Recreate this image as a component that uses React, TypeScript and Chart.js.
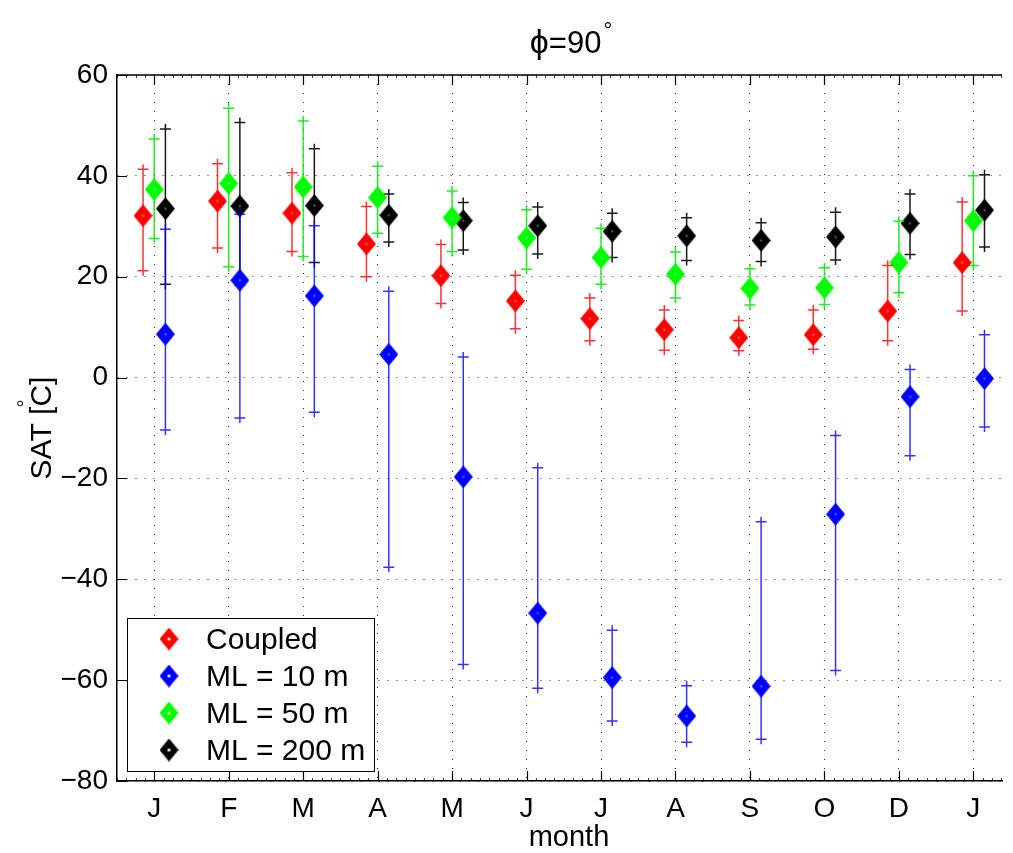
import { useEffect, useRef } from 'react';
import { Chart, registerables } from 'chart.js';

Chart.register(...registerables);

// ---------- data ----------
const MONTH_LABELS = ['J', 'F', 'M', 'A', 'M', 'J', 'J', 'A', 'S', 'O', 'D', 'J'];
const MONTH_POS = [1, 2, 3, 4, 5, 6, 7, 8, 9, 10, 11, 12];
const Y_TICKS = [-80, -60, -40, -20, 0, 20, 40, 60];

const SERIES_NAMES = ['Coupled', 'ML = 10 m', 'ML = 50 m', 'ML = 200 m'];

const COUPLED_MEAN = [32.1, 35.0, 32.6, 26.5, 20.2, 15.2, 11.7, 9.5, 7.9, 8.5, 13.2, 22.8];
const COUPLED_HIGH = [41.3, 42.4, 40.6, 33.9, 26.4, 20.3, 15.8, 13.4, 11.3, 13.4, 22.2, 34.8];
const COUPLED_LOW = [21.2, 25.7, 25.0, 20.0, 14.7, 9.7, 7.3, 5.4, 5.3, 5.6, 7.3, 13.2];

const ML10_MEAN = [8.6, 19.3, 16.2, 4.6, -19.7, -46.7, -59.5, -67.1, -61.2, -27.1, -3.8, -0.2];
const ML10_HIGH = [29.4, 32.4, 30.1, 17.1, 4.1, -17.9, -50.1, -61.1, -28.6, -11.5, 1.6, 8.5];
const ML10_LOW = [-10.4, -8.0, -6.9, -37.6, -56.9, -61.6, -68.1, -72.3, -71.7, -58.1, -15.5, -9.8];

const ML50_MEAN = [37.3, 38.5, 37.8, 35.7, 31.7, 27.7, 23.8, 20.5, 17.7, 17.8, 22.8, 31.1];
const ML50_HIGH = [47.3, 53.4, 50.9, 41.9, 37.0, 33.3, 29.6, 24.9, 21.6, 21.8, 31.0, 40.0];
const ML50_LOW = [27.6, 22.0, 24.0, 28.6, 25.0, 21.5, 18.5, 15.8, 14.4, 14.5, 16.8, 22.2];

const ML200_MEAN = [33.5, 34.0, 34.1, 32.2, 31.1, 30.1, 29.0, 28.1, 27.2, 27.9, 30.6, 33.2];
const ML200_HIGH = [49.3, 50.6, 45.4, 36.4, 34.7, 33.8, 32.6, 31.7, 30.7, 32.8, 36.4, 40.2];
const ML200_LOW = [18.5, 18.3, 22.8, 26.9, 25.3, 24.5, 23.8, 23.2, 23.0, 23.3, 24.4, 25.9];

// ---------- styling ----------
const MEANS = [COUPLED_MEAN, ML10_MEAN, ML50_MEAN, ML200_MEAN];
const HIGHS = [COUPLED_HIGH, ML10_HIGH, ML50_HIGH, ML200_HIGH];
const LOWS = [COUPLED_LOW, ML10_LOW, ML50_LOW, ML200_LOW];
const COLORS = ['#ff0000', '#0000ff', '#00ff00', '#000000'];
const ERR_COLORS = ['rgba(255,0,0,0.8)', 'rgba(0,0,255,0.8)', 'rgba(0,230,0,0.85)', 'rgba(0,0,0,0.9)'];
const SERIES_OFFSETS = [-0.15, 0.15, 0, 0.15];

const FONT = '"Liberation Sans", Arial, Helvetica, sans-serif';

function makeDiamond(color: string, w: number, h: number, dot: string, dotR: number) {
  const c = document.createElement('canvas');
  c.width = w;
  c.height = h;
  const ctx = c.getContext('2d')!;
  ctx.fillStyle = color;
  ctx.beginPath();
  ctx.moveTo(w / 2, 0);
  ctx.lineTo(w, h / 2);
  ctx.lineTo(w / 2, h);
  ctx.lineTo(0, h / 2);
  ctx.closePath();
  ctx.fill();
  ctx.fillStyle = dot;
  ctx.beginPath();
  ctx.arc(w / 2, h / 2, dotR, 0, Math.PI * 2);
  ctx.fill();
  return c;
}

const errorBarPlugin = {
  id: 'errorBars',
  beforeDatasetDraw(chart: any, args: any) {
    const i = args.index;
    const xs = chart.scales.x;
    const ys = chart.scales.y;
    const ctx = chart.ctx;
    ctx.save();
    ctx.strokeStyle = ERR_COLORS[i];
    ctx.lineWidth = 1.5;
    for (let k = 0; k < MONTH_POS.length; k++) {
      const x = xs.getPixelForValue(MONTH_POS[k] + SERIES_OFFSETS[i]);
      const yh = ys.getPixelForValue(HIGHS[i][k]);
      const yl = ys.getPixelForValue(LOWS[i][k]);
      ctx.beginPath();
      ctx.moveTo(x, yh - 5);
      ctx.lineTo(x, yl + 5);
      ctx.moveTo(x - 5.5, yh);
      ctx.lineTo(x + 5.5, yh);
      ctx.moveTo(x - 5.5, yl);
      ctx.lineTo(x + 5.5, yl);
      ctx.stroke();
    }
    ctx.restore();
  },
};

const decorPlugin = {
  id: 'decor',
  afterDraw(chart: any) {
    const ctx = chart.ctx;
    const area = chart.chartArea;
    const xs = chart.scales.x;
    const ys = chart.scales.y;
    ctx.save();

    // top frame line
    ctx.strokeStyle = '#000';
    ctx.lineWidth = 1.5;
    ctx.beginPath();
    ctx.moveTo(area.left, area.top);
    ctx.lineTo(area.right, area.top);
    ctx.stroke();

    // x ticks (major + minor), top and bottom, inward
    ctx.lineWidth = 1;
    ctx.strokeStyle = 'rgba(0,0,0,0.75)';
    ctx.beginPath();
    for (let v = xs.min; v <= xs.max + 1e-9; v += 0.125) {
      const x = Math.round(xs.getPixelForValue(v)) + 0.5;
      ctx.moveTo(x, area.bottom);
      ctx.lineTo(x, area.bottom - 3);
      ctx.moveTo(x, area.top);
      ctx.lineTo(x, area.top + 3);
    }
    ctx.stroke();
    ctx.strokeStyle = '#000';
    ctx.lineWidth = 1.2;
    ctx.beginPath();
    for (const v of MONTH_POS) {
      const x = Math.round(xs.getPixelForValue(v)) + 0.5;
      ctx.moveTo(x, area.bottom);
      ctx.lineTo(x, area.bottom - 10);
      ctx.moveTo(x, area.top);
      ctx.lineTo(x, area.top + 10);
    }
    for (const v of Y_TICKS) {
      const y = Math.round(ys.getPixelForValue(v)) + 0.5;
      ctx.moveTo(area.left, y);
      ctx.lineTo(area.left + 10, y);
    }
    ctx.stroke();

    // title: ϕ=90°
    ctx.fillStyle = '#000';
    ctx.textBaseline = 'alphabetic';
    ctx.textAlign = 'left';
    ctx.font = `34px ${FONT}`;
    const wPhi = ctx.measureText('ϕ').width;
    ctx.font = `31px ${FONT}`;
    const wRest = ctx.measureText('=90').width;
    ctx.font = `22px ${FONT}`;
    const wDeg = ctx.measureText('°').width;
    const tx = 570 - (wPhi + wRest + wDeg) / 2;
    ctx.font = `34px ${FONT}`;
    ctx.fillText('ϕ', tx, 53);
    ctx.font = `31px ${FONT}`;
    ctx.fillText('=90', tx + wPhi, 53);
    ctx.font = `22px ${FONT}`;
    ctx.fillText('°', tx + wPhi + wRest + 2, 38);

    // x axis title
    ctx.font = `29px ${FONT}`;
    ctx.textAlign = 'center';
    ctx.fillText('month', 569, 846);

    // y axis title
    ctx.save();
    ctx.translate(51, 428);
    ctx.rotate(-Math.PI / 2);
    ctx.font = `30px ${FONT}`;
    const a = 'SAT [';
    const b = 'C]';
    const wa = ctx.measureText(a).width;
    const wb = ctx.measureText(b).width;
    const start = -(wa + wb) / 2;
    ctx.textAlign = 'left';
    ctx.fillText(a, start, 0);
    ctx.fillText(b, start + wa, 0);
    ctx.font = `20px ${FONT}`;
    ctx.fillText('°', start + wa - 1, -19);
    ctx.restore();

    // legend
    const lx = area.left + 10;
    const lw = 247;
    const lh = 153;
    const ly = area.bottom - 10 - lh;
    ctx.fillStyle = '#fff';
    ctx.fillRect(lx, ly, lw, lh);
    ctx.strokeStyle = '#000';
    ctx.lineWidth = 1;
    ctx.strokeRect(lx + 0.5, ly + 0.5, lw, lh);
    ctx.font = `30px ${FONT}`;
    ctx.textAlign = 'left';
    ctx.textBaseline = 'middle';
    chart.data.datasets.forEach((ds: any, i: number) => {
      const cy = ly + 21 + i * 37;
      const mk = makeDiamond(COLORS[i], 19, 23, '#fff', 1.6);
      ctx.drawImage(mk, lx + 42 - 9.5, cy - 11.5);
      ctx.fillStyle = '#000';
      ctx.fillText(ds.label, lx + 79, cy + 2);
    });

    ctx.restore();
  },
};

export default function App() {
  const ref = useRef<HTMLCanvasElement | null>(null);

  useEffect(() => {
    if (!ref.current) return;
    const datasets = SERIES_NAMES.map((name, i) => ({
      label: name,
      data: MONTH_POS.map((m, k) => ({ x: m + SERIES_OFFSETS[i], y: MEANS[i][k] })),
      pointStyle: makeDiamond(COLORS[i], 19, 23, 'rgba(255,255,255,0.35)', 1.2) as any,
      pointRadius: 10,
      backgroundColor: COLORS[i],
      borderColor: COLORS[i],
      showLine: false,
    }));

    const chart = new Chart(ref.current, {
      type: 'scatter',
      data: { datasets },
      plugins: [errorBarPlugin, decorPlugin],
      options: {
        animation: false,
        responsive: false,
        layout: { padding: { top: 75, left: 0, right: 0, bottom: 0 } },
        plugins: {
          legend: { display: false },
          title: { display: false },
          tooltip: { enabled: false },
        },
        scales: {
          x: {
            type: 'linear',
            min: 0.5,
            max: 12.385,
            afterBuildTicks: (scale: any) => {
              scale.ticks = MONTH_POS.map((v) => ({ value: v }));
            },
            afterFit: (scale: any) => {
              scale.height = 72;
            },
            ticks: {
              autoSkip: false,
              maxRotation: 0,
              padding: 11,
              color: '#000',
              font: { family: FONT, size: 28 },
              callback: (_v: any, idx: number) => MONTH_LABELS[idx],
            },
            grid: {
              drawTicks: false,
              color: 'rgba(0,0,0,0.85)',
              lineWidth: 1,
            },
            border: { display: true, color: '#000', width: 1.5, dash: [1, 8] },
          },
          y: {
            type: 'linear',
            min: -80,
            max: 60,
            afterBuildTicks: (scale: any) => {
              scale.ticks = Y_TICKS.map((v) => ({ value: v }));
            },
            afterFit: (scale: any) => {
              scale.width = 117;
            },
            ticks: {
              padding: 9,
              color: '#000',
              font: { family: FONT, size: 28 },
              callback: (v: any) => String(v).replace('-', '\u2212'),
            },
            grid: {
              drawTicks: false,
              color: 'rgba(0,0,0,0.85)',
              lineWidth: 1,
            },
            border: { display: true, color: '#000', width: 1.5, dash: [1, 8] },
          },
        },
      },
    });
    return () => chart.destroy();
  }, []);

  return (
    <div style={{ position: 'absolute', left: 0, top: 0, width: 1013, height: 853, overflow: 'hidden', background: '#fff' }}>
      <canvas ref={ref} width={1013} height={853} style={{ display: 'block' }} />
    </div>
  );
}
